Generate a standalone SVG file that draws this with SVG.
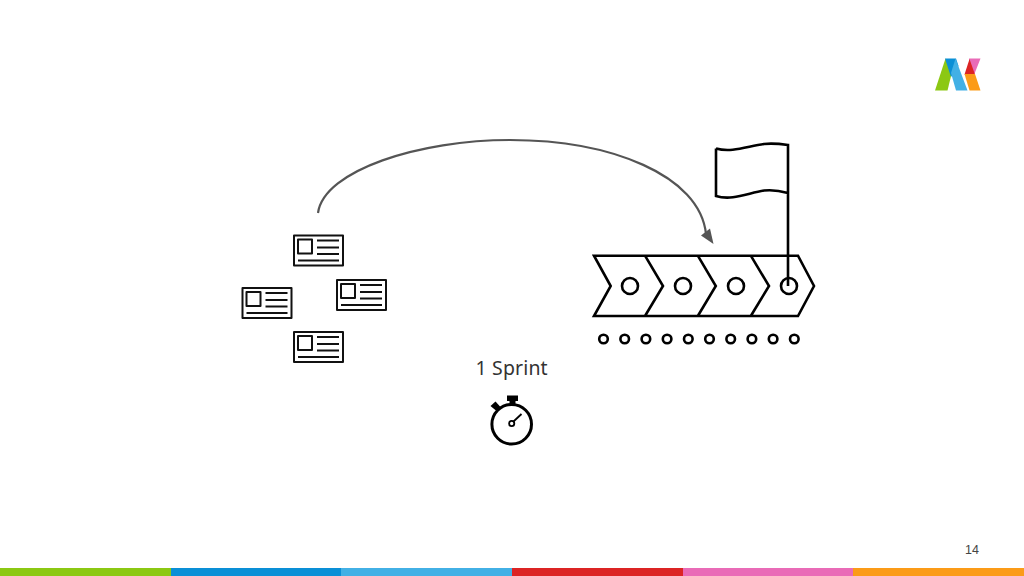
<svg xmlns="http://www.w3.org/2000/svg" width="1024" height="576" viewBox="0 0 1024 576">
<style>
.l{fill:none;stroke:#111;stroke-width:2;stroke-linejoin:round}
.b{fill:none;stroke:#000;stroke-width:2.6;stroke-linejoin:miter}
.t{font-family:"Noto Sans","Open Sans",sans-serif;font-size:19.500px;fill:#333;letter-spacing:.15px}
</style>
<defs>
<g id="card">
<rect class="l" x="0" y="0" width="49" height="30"/>
<rect class="l" x="4" y="4" width="14" height="14"/>
<path class="l" d="M23 5H45M23 12H45M23 18.500H45M4 25H45"/>
</g>
</defs>
<rect width="1024" height="576" fill="#fff"/>
<g id="logo">
<path d="M935 90.500L945.500 58.500L952 72L947.500 90.500Z" fill="#8cc813"/>
<path d="M945 58.500H956L958.500 66L951 77Z" fill="#0a8fd6"/>
<path d="M951 73L955.500 58.500L967.500 90.500H956Z" fill="#42b0e5"/>
<path d="M969 58.500H980.500L974 75H971Z" fill="#e96bb7"/>
<path d="M964.500 74.500L969.500 59L975 74.500Z" fill="#dc2424"/>
<path d="M964.500 74L975 74L980.500 90.500H969.500Z" fill="#fb9b18"/>
</g>
<g id="connectors">
<path d="M318 213C324 170 420 140 510 140C610 140 700 175 706 234" fill="none" stroke="#555" stroke-width="2.200"/>
<path d="M713.500 244L701 235.500L710 228.500Z" fill="#555"/>
</g>
<use id="card-top" href="#card" x="294" y="235.500"/>
<use id="card-left" href="#card" x="242.500" y="288"/>
<use id="card-right" href="#card" x="337" y="280"/>
<use id="card-bottom" href="#card" x="294" y="332"/>
<g id="flag">
<path class="b" d="M716 148.500C732 153 748 146 764 144C773 143 781 144 788 145V286M716 148.500V196C732 201 748 193 764 190.500C773 189.500 781 191 788 193"/>
</g>
<g id="process">
<path class="b" d="M594 255.700H798L814 286L798 316H594L610.700 286ZM645 255.700L663 286L645 316M697.800 255.700L715.800 286L697.800 316M750.800 255.700L769 286L750.800 316"/>
<g class="b">
<circle cx="630" cy="286" r="8"/><circle cx="683" cy="286" r="8"/><circle cx="736" cy="286" r="8"/><circle cx="789" cy="286" r="8"/>
</g>
</g>
<g id="dots" class="b">
<circle cx="603.500" cy="339" r="4.300"/><circle cx="624.700" cy="339" r="4.300"/><circle cx="645.900" cy="339" r="4.300"/><circle cx="667.100" cy="339" r="4.300"/><circle cx="688.300" cy="339" r="4.300"/><circle cx="709.500" cy="339" r="4.300"/><circle cx="730.700" cy="339" r="4.300"/><circle cx="751.900" cy="339" r="4.300"/><circle cx="773.100" cy="339" r="4.300"/><circle cx="794.300" cy="339" r="4.300"/>
</g>
<text class="t" x="475.500" y="374.500">1 Sprint</text>
<g id="stopwatch">
<circle cx="511.700" cy="424.300" r="19.800" fill="none" stroke="#000" stroke-width="3"/>
<path d="M507 395.500H518V401H515.500V405H509.500V401H507Z" fill="#000"/>
<path d="M490.500 406L495.500 401.500L500.500 407L496.500 411Z" fill="#000"/>
<circle cx="511.700" cy="423.500" r="2.600" fill="none" stroke="#000" stroke-width="1.800"/>
<path d="M513.500 421.500L521.500 414" fill="none" stroke="#000" stroke-width="1.800"/>
</g>
<text x="972" y="553.500" text-anchor="middle" font-family="Liberation Sans, sans-serif" font-size="12.500" fill="#444">14</text>
<g id="bar">
<rect x="0" y="568" width="171" height="8" fill="#8cc813"/>
<rect x="171" y="568" width="170" height="8" fill="#0a8fd6"/>
<rect x="341" y="568" width="171" height="8" fill="#42b0e5"/>
<rect x="512" y="568" width="171" height="8" fill="#dc2424"/>
<rect x="683" y="568" width="170" height="8" fill="#e96bb7"/>
<rect x="853" y="568" width="171" height="8" fill="#fb9b18"/>
</g>
</svg>
